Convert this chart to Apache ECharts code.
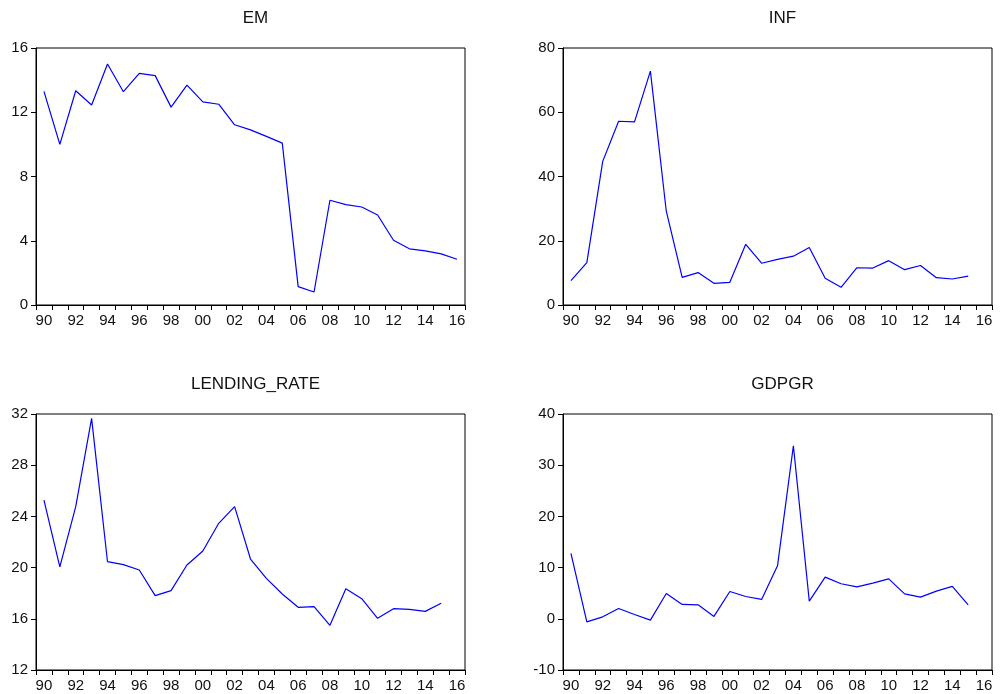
<!DOCTYPE html>
<html>
<head>
<meta charset="utf-8">
<script src="https://cdn.jsdelivr.net/npm/echarts@6/dist/echarts.min.js"></script>
<style>
  html, body { margin: 0; padding: 0; background: #fff; }
  #chart { width: 1001px; height: 694px; }
</style>
</head>
<body>
<div id="chart"></div>
<script>
const years = ['1990','1991','1992','1993','1994','1995','1996','1997','1998','1999','2000','2001','2002','2003','2004','2005','2006','2007','2008','2009','2010','2011','2012','2013','2014','2015','2016'];

const em = [13.3, 10.0, 13.34, 12.45, 15.0, 13.28, 14.42, 14.28, 12.32, 13.69, 12.65, 12.5, 11.22, 10.9, 10.5, 10.08, 1.14, 0.81, 6.52, 6.25, 6.1, 5.6, 4.03, 3.5, 3.37, 3.18, 2.85];
const inf = [7.6, 13.2, 44.7, 57.2, 57.0, 72.8, 29.2, 8.6, 10.1, 6.75, 7.07, 18.9, 13.0, 14.2, 15.2, 17.9, 8.3, 5.5, 11.6, 11.5, 13.8, 11.0, 12.3, 8.5, 8.1, 9.0];
const lendingRate = [25.28, 20.05, 24.76, 31.66, 20.46, 20.23, 19.81, 17.81, 18.2, 20.2, 21.3, 23.46, 24.76, 20.67, 19.16, 17.94, 16.9, 16.95, 15.49, 18.35, 17.57, 16.04, 16.79, 16.74, 16.58, 17.21];
const gdpgr = [12.76, -0.59, 0.39, 2.02, 0.85, -0.26, 4.95, 2.8, 2.73, 0.46, 5.34, 4.36, 3.78, 10.35, 33.79, 3.45, 8.14, 6.84, 6.25, 6.97, 7.81, 4.88, 4.23, 5.4, 6.32, 2.73];

const titles = ['EM', 'INF', 'LENDING_RATE', 'GDPGR'];
const yRanges = [[0, 16, 4], [0, 80, 20], [12, 32, 4], [-10, 40, 10]];
const seriesData = [em, inf, lendingRate, gdpgr];

const FONT = '"Liberation Sans", Arial, sans-serif';
const grids = [
  { left: 36, top: 48, width: 429, height: 257 },
  { left: 563, top: 48, width: 429, height: 257 },
  { left: 36, top: 414, width: 429, height: 256 },
  { left: 563, top: 414, width: 429, height: 256 }
];

const option = {
  animation: false,
  backgroundColor: '#ffffff',
  textStyle: { fontFamily: FONT },
  title: titles.map((t, i) => ({
    text: t,
    left: grids[i].left + grids[i].width / 2,
    textAlign: 'center',
    top: i < 2 ? 5 : 371,
    textStyle: { fontSize: 17, fontWeight: 'normal', color: '#111', fontFamily: FONT }
  })),
  grid: grids.map(g => Object.assign({ show: true, borderColor: '#000', borderWidth: 1, backgroundColor: 'transparent' }, g)),
  xAxis: grids.map((g, i) => ({
    type: 'category',
    gridIndex: i,
    data: years,
    boundaryGap: true,
    axisLine: { onZero: false, lineStyle: { color: '#000', width: 1 } },
    axisTick: { show: true, interval: 0, length: 5, inside: false, lineStyle: { color: '#000' } },
    axisLabel: {
      interval: 1,
      margin: 8,
      fontSize: 15,
      color: '#111',
      fontFamily: FONT,
      formatter: v => v.slice(2)
    },
    splitLine: { show: false }
  })),
  yAxis: yRanges.map((r, i) => ({
    type: 'value',
    gridIndex: i,
    min: r[0],
    max: r[1],
    interval: r[2],
    axisLine: { show: true, onZero: false, lineStyle: { color: '#000', width: 1 } },
    axisTick: { show: true, length: 5, inside: false, lineStyle: { color: '#000' } },
    axisLabel: { margin: 8, fontSize: 15, color: '#111', fontFamily: FONT },
    splitLine: { show: false }
  })),
  series: seriesData.map((d, i) => ({
    type: 'line',
    xAxisIndex: i,
    yAxisIndex: i,
    data: d,
    showSymbol: false,
    symbol: 'none',
    lineStyle: { color: '#0000ff', width: 1.2 },
    itemStyle: { color: '#0000ff' }
  }))
};

const chart = echarts.init(document.getElementById('chart'), null, { renderer: 'canvas' });
chart.setOption(option);
</script>
</body>
</html>
